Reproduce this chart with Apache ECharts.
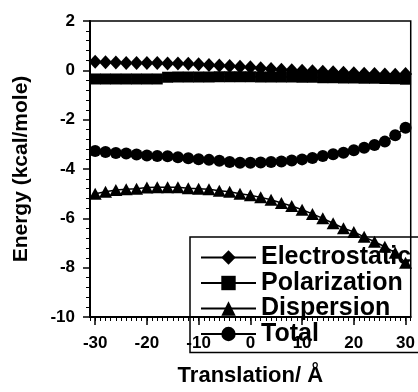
<!DOCTYPE html>
<html>
<head>
<meta charset="utf-8">
<script src="https://cdn.jsdelivr.net/npm/echarts@6/dist/echarts.min.js"></script>
<style>
  html, body { margin: 0; padding: 0; background: #fff; }
  #chart { width: 418px; height: 392px; }
</style>
</head>
<body>
<div id="chart"></div>
<script>
// translation positions (Å)
const translation = [-30, -28, -26, -24, -22, -20, -18, -16, -14, -12, -10, -8, -6, -4, -2, 0,
  2, 4, 6, 8, 10, 12, 14, 16, 18, 20, 22, 24, 26, 28, 30];

const electrostatic = [0.35, 0.33, 0.32, 0.3, 0.3, 0.3, 0.3, 0.28, 0.28, 0.27, 0.25, 0.22, 0.2, 0.18, 0.15, 0.12,
  0.08, 0.05, 0.02, 0.0, -0.02, -0.04, -0.06, -0.08, -0.1, -0.12, -0.14, -0.15, -0.17, -0.18, -0.15];

const polarization = [-0.35, -0.35, -0.35, -0.35, -0.35, -0.35, -0.35, -0.28, -0.27, -0.27, -0.27, -0.27, -0.26, -0.26, -0.26, -0.26,
  -0.27, -0.27, -0.27, -0.27, -0.28, -0.28, -0.3, -0.3, -0.31, -0.31, -0.32, -0.32, -0.33, -0.34, -0.36];

const dispersion = [-5.0, -4.92, -4.85, -4.82, -4.8, -4.75, -4.74, -4.74, -4.74, -4.78, -4.8, -4.82, -4.88, -4.92, -5.0, -5.06,
  -5.15, -5.25, -5.38, -5.5, -5.65, -5.82, -6.0, -6.2, -6.4, -6.55, -6.75, -6.95, -7.15, -7.4, -7.8];

const total = [-3.27, -3.31, -3.35, -3.37, -3.41, -3.45, -3.47, -3.48, -3.52, -3.56, -3.6, -3.63, -3.67, -3.72, -3.75, -3.75,
  -3.74, -3.72, -3.7, -3.66, -3.61, -3.55, -3.47, -3.4, -3.34, -3.24, -3.14, -3.03, -2.89, -2.63, -2.33];

const xMajorTicks = [-30, -20, -10, 0, 10, 20, 30];
const xMinorTicks = [];
for (let v = -31; v <= 31; v++) xMinorTicks.push(v);

const font = 'Liberation Sans, Arial, sans-serif';

const pairs = arr => translation.map((x, i) => [x, arr[i]]);

const mkSeries = (name, arr, symbol, size) => ({
  name: name,
  type: 'line',
  data: pairs(arr),
  symbol: symbol,
  symbolSize: size,
  color: '#000',
  itemStyle: { color: '#000' },
  lineStyle: { color: '#000', width: 1.5 },
  emphasis: { disabled: true },
  animation: false
});

const chart = echarts.init(document.getElementById('chart'));
chart.setOption({
  backgroundColor: '#fff',
  animation: false,
  grid: {
    left: 90, right: 5, top: 21, bottom: 74,
    show: true, borderColor: '#000', borderWidth: 1.5
  },
  xAxis: [
    {
      type: 'value', min: -31, max: 31,
      name: 'Translation/ Å', nameLocation: 'middle', nameGap: 48,
      nameTextStyle: { fontFamily: font, fontWeight: 'bold', fontSize: 22, color: '#000' },
      axisLine: { onZero: false, lineStyle: { color: '#000', width: 2 } },
      axisTick: { customValues: xMajorTicks, length: 8, lineStyle: { color: '#000', width: 1.5 } },
      axisLabel: { customValues: xMajorTicks, margin: 18, fontFamily: font, fontWeight: 'bold', fontSize: 17, color: '#000' },
      splitLine: { show: false }
    },
    {
      type: 'value', min: -31, max: 31, position: 'bottom',
      axisLine: { show: false, onZero: false },
      axisTick: { customValues: xMinorTicks, length: 4, lineStyle: { color: '#000', width: 1 } },
      axisLabel: { show: false },
      splitLine: { show: false }
    }
  ],
  yAxis: {
    type: 'value', min: -10, max: 2, interval: 2,
    name: 'Energy (kcal/mole)', nameLocation: 'middle', nameGap: 58,
    nameTextStyle: { fontFamily: font, fontWeight: 'bold', fontSize: 21, color: '#000' },
    axisLine: { show: true, onZero: false, lineStyle: { color: '#000', width: 2 } },
    axisTick: { show: true, length: 7, lineStyle: { color: '#000', width: 1.5 } },
    minorTick: { show: true, splitNumber: 5, length: 4, lineStyle: { color: '#000', width: 1 } },
    axisLabel: { margin: 15, fontFamily: font, fontWeight: 'bold', fontSize: 17, color: '#000' },
    splitLine: { show: false }
  },
  legend: {
    orient: 'vertical',
    left: 190, top: 237,
    padding: [8, 10, 6, 10],
    borderColor: '#000', borderWidth: 1.5,
    itemWidth: 55, itemHeight: 18, itemGap: 0.5,
    textStyle: { fontFamily: font, fontWeight: 'bold', fontSize: 25, lineHeight: 24, color: '#000' },
    data: ['Electrostatic', 'Polarization', 'Dispersion', 'Total']
  },
  series: [
    mkSeries('Electrostatic', electrostatic, 'diamond', [13, 14]),
    mkSeries('Polarization', polarization, 'rect', 11),
    mkSeries('Dispersion', dispersion, 'triangle', [13, 12]),
    mkSeries('Total', total, 'circle', 12)
  ]
});
</script>
</body>
</html>
